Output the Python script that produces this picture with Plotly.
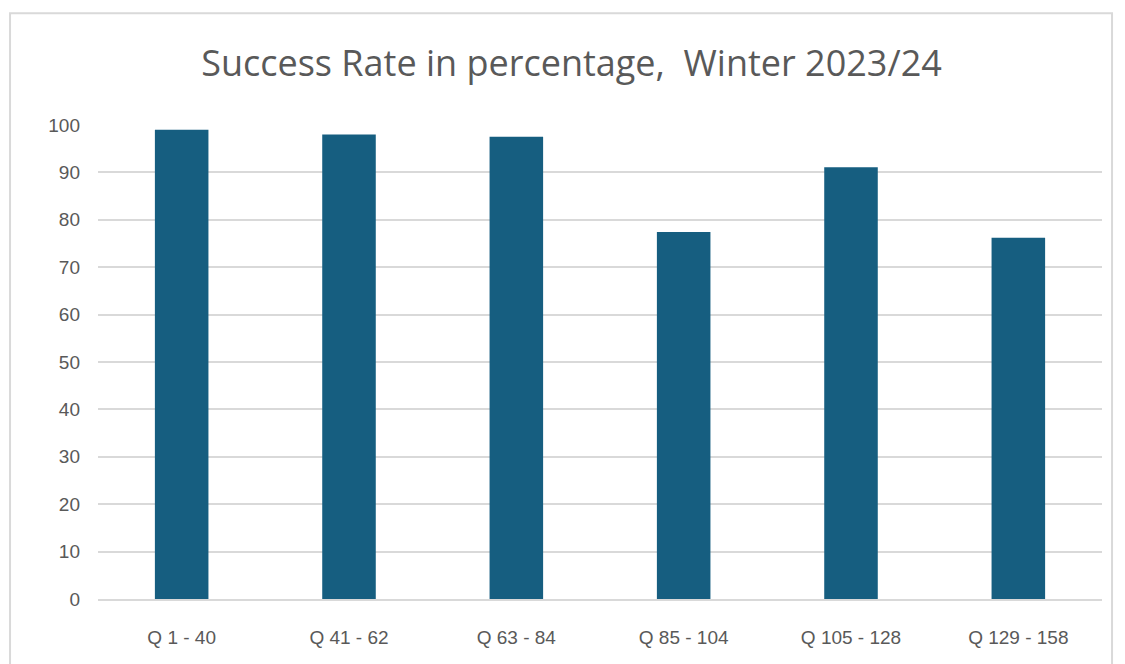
import plotly.graph_objects as go

# Question blocks and their success rates (%)
categories = ["Q 1 - 40", "Q 41 - 62", "Q 63 - 84", "Q 85 - 104", "Q 105 - 128", "Q 129 - 158"]
success_rate = [99.0, 98.0, 97.5, 77.4, 91.1, 76.2]
y_ticks = [0, 10, 20, 30, 40, 50, 60, 70, 80, 90, 100]

BAR = "#165e80"
GRID = "#d9d9d9"
TEXT = "#595959"

fig = go.Figure(
    go.Bar(
        x=categories,
        y=success_rate,
        marker=dict(color=BAR, line=dict(width=0)),
        hoverinfo="x+y",
    )
)

fig.update_layout(
    width=1125,
    height=664,
    margin=dict(l=98, r=23, t=125, b=65),
    paper_bgcolor="white",
    plot_bgcolor="white",
    bargap=0.68,
    showlegend=False,
    title=dict(
        text="Success Rate in percentage,  Winter 2023/24",
        x=0.508,
        xref="container",
        xanchor="center",
        y=0.905,
        yanchor="middle",
        font=dict(family="Open Sans, sans-serif", size=36, color=TEXT),
    ),
    font=dict(family="Liberation Sans Narrow, Liberation Sans, sans-serif", color=TEXT),
    xaxis=dict(
        showgrid=False,
        showline=True,
        linecolor=GRID,
        linewidth=2,
        ticks="",
        ticklabelstandoff=20,
        tickfont=dict(size=19, color=TEXT),
        fixedrange=True,
    ),
    yaxis=dict(
        range=[0, 100],
        tickvals=y_ticks,
        showgrid=True,
        gridcolor=GRID,
        gridwidth=2,
        zeroline=False,
        showline=False,
        ticks="",
        ticklabelstandoff=17,
        tickfont=dict(size=19, color=TEXT),
        fixedrange=True,
    ),
    shapes=[
        dict(
            type="rect",
            xref="paper",
            yref="paper",
            x0=-0.0876,
            x1=1.0100,
            y0=-0.2,
            y1=1.236,
            line=dict(color=GRID, width=2),
            fillcolor="rgba(0,0,0,0)",
            layer="below",
        )
    ],
)

fig.write_html("out.html")
